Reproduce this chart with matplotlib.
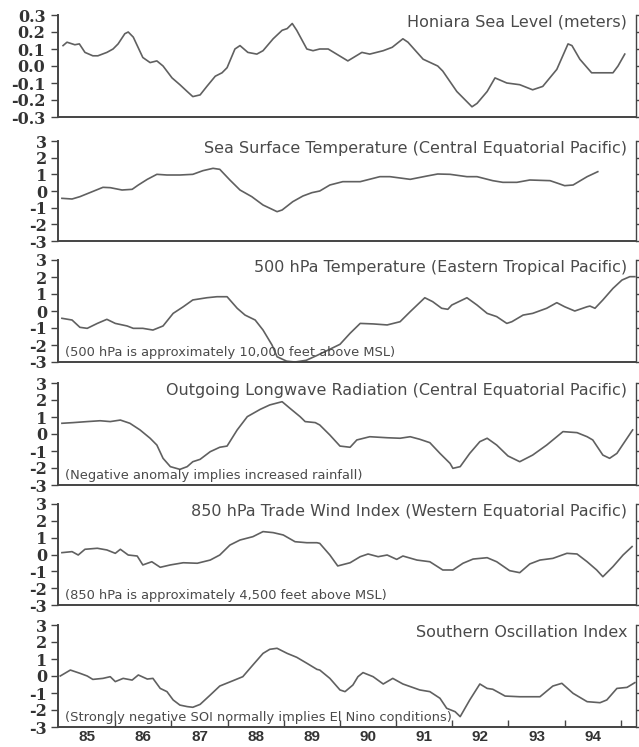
import matplotlib
matplotlib.use("Agg")
import matplotlib.pyplot as plt
from matplotlib.ticker import FixedLocator, NullFormatter

# ---- data (x = year, 2-digit, decimal) ----
sea_t = [85.07, 85.14, 85.28, 85.36, 85.46, 85.60, 85.69, 85.85, 85.96, 86.05, 86.17, 86.23,
         86.32, 86.49, 86.62, 86.74, 86.85, 87.01, 87.15, 87.28, 87.38, 87.51, 87.63, 87.78,
         87.90, 87.99, 88.13, 88.22, 88.36, 88.52, 88.63, 88.81, 88.97, 89.06, 89.15, 89.23,
         89.41, 89.52, 89.64, 89.79, 90.14, 90.39, 90.53, 90.77, 90.93, 91.12, 91.21, 91.48,
         91.74, 91.83, 92.08, 92.35, 92.44, 92.62, 92.76, 92.97, 93.20, 93.43, 93.61, 93.86,
         94.06, 94.13, 94.27, 94.48, 94.68, 94.86, 94.95, 95.07]
sea_v = [0.12, 0.14, 0.125, 0.13, 0.08, 0.06, 0.06, 0.08, 0.10, 0.13, 0.19, 0.20,
         0.17, 0.05, 0.02, 0.03, 0.0, -0.07, -0.11, -0.15, -0.18, -0.17, -0.12, -0.06,
         -0.04, -0.01, 0.10, 0.12, 0.08, 0.07, 0.09, 0.16, 0.21, 0.22, 0.25, 0.21,
         0.10, 0.09, 0.10, 0.10, 0.03, 0.08, 0.07, 0.09, 0.11, 0.16, 0.14, 0.04,
         0.0, -0.03, -0.15, -0.24, -0.22, -0.15, -0.07, -0.10, -0.11, -0.14, -0.12, -0.02,
         0.13, 0.12, 0.04, -0.04, -0.04, -0.04, 0.0, 0.07]

sst_t = [85.05, 85.23, 85.37, 85.59, 85.78, 85.91, 86.12, 86.30, 86.41, 86.57, 86.74, 86.92,
         87.15, 87.38, 87.56, 87.74, 87.86, 88.04, 88.22, 88.43, 88.63, 88.88, 88.97, 89.16,
         89.34, 89.50, 89.64, 89.82, 90.05, 90.36, 90.71, 90.89, 91.25, 91.55, 91.74, 91.96,
         92.26, 92.44, 92.72, 92.90, 93.15, 93.38, 93.74, 93.88, 94.00, 94.15, 94.40, 94.59]
sst_v = [-0.44, -0.48, -0.34, -0.04, 0.22, 0.20, 0.06, 0.10, 0.36, 0.70, 1.0, 0.96,
         0.96, 1.0, 1.22, 1.36, 1.30, 0.66, 0.06, -0.34, -0.84, -1.24, -1.14, -0.64,
         -0.30, -0.10, 0.0, 0.36, 0.56, 0.56, 0.86, 0.86, 0.70, 0.90, 1.02, 1.0,
         0.86, 0.86, 0.62, 0.52, 0.52, 0.66, 0.62, 0.46, 0.32, 0.36, 0.86, 1.16]

t500_t = [85.05, 85.23, 85.37, 85.50, 85.68, 85.85, 86.00, 86.21, 86.32, 86.49, 86.67, 86.85,
          87.03, 87.21, 87.38, 87.63, 87.81, 87.99, 88.17, 88.31, 88.49, 88.63, 88.79, 88.88,
          89.05, 89.20, 89.40, 89.60, 90.00, 90.18, 90.36, 90.59, 90.84, 91.07, 91.25, 91.51,
          91.65, 91.81, 91.92, 91.99, 92.26, 92.44, 92.62, 92.79, 92.97, 93.06, 93.26, 93.43,
          93.68, 93.86, 94.00, 94.18, 94.40, 94.45, 94.54, 94.68, 94.86, 95.02, 95.16, 95.25]
t500_v = [-0.43, -0.53, -0.96, -1.02, -0.73, -0.49, -0.73, -0.88, -1.02, -1.02, -1.12, -0.88,
          -0.14, 0.25, 0.65, 0.78, 0.84, 0.84, 0.16, -0.24, -0.53, -1.12, -2.0, -2.69,
          -2.95, -3.0, -2.9, -2.6, -1.96, -1.31, -0.73, -0.76, -0.82, -0.63, -0.04, 0.78,
          0.55, 0.16, 0.10, 0.35, 0.78, 0.35, -0.14, -0.33, -0.73, -0.63, -0.24, -0.14,
          0.16, 0.49, 0.25, 0.0, 0.25, 0.29, 0.16, 0.65, 1.33, 1.82, 2.02, 2.02]

olr_t = [85.05, 85.25, 85.50, 85.73, 85.91, 86.09, 86.26, 86.44, 86.62, 86.74, 86.85, 86.98,
         87.15, 87.28, 87.38, 87.51, 87.69, 87.86, 87.99, 88.17, 88.35, 88.58, 88.75, 88.97,
         89.11, 89.29, 89.38, 89.56, 89.64, 89.82, 90.00, 90.18, 90.30, 90.53, 90.84, 91.07,
         91.25, 91.42, 91.60, 91.78, 91.96, 92.01, 92.14, 92.31, 92.49, 92.62, 92.79, 92.99,
         93.20, 93.43, 93.68, 93.86, 93.97, 94.22, 94.40, 94.50, 94.68, 94.80, 94.93, 95.07, 95.21]
olr_v = [0.63, 0.67, 0.73, 0.78, 0.73, 0.82, 0.63, 0.24, -0.25, -0.65, -1.43, -1.92,
         -2.08, -1.92, -1.63, -1.49, -1.04, -0.78, -0.71, 0.24, 1.02, 1.45, 1.71, 1.90,
         1.51, 1.02, 0.73, 0.67, 0.53, -0.06, -0.71, -0.78, -0.35, -0.16, -0.22, -0.25,
         -0.16, -0.31, -0.51, -1.14, -1.73, -2.02, -1.92, -1.14, -0.45, -0.25, -0.65, -1.29,
         -1.63, -1.24, -0.65, -0.16, 0.14, 0.08, -0.16, -0.35, -1.24, -1.43, -1.14, -0.45, 0.24]

wind_t = [85.05, 85.23, 85.34, 85.46, 85.68, 85.85, 86.00, 86.09, 86.23, 86.39, 86.49, 86.65,
          86.80, 86.98, 87.21, 87.46, 87.69, 87.86, 88.04, 88.22, 88.45, 88.63, 88.81, 88.99,
          89.20, 89.41, 89.59, 89.64, 89.82, 89.96, 90.18, 90.36, 90.50, 90.68, 90.84, 91.01,
          91.12, 91.37, 91.60, 91.83, 92.01, 92.19, 92.37, 92.62, 92.79, 93.02, 93.20, 93.38,
          93.56, 93.79, 94.04, 94.22, 94.40, 94.57, 94.68, 94.86, 95.04, 95.20]
wind_v = [0.11, 0.17, -0.03, 0.31, 0.37, 0.27, 0.07, 0.31, -0.03, -0.09, -0.62, -0.43,
          -0.76, -0.62, -0.49, -0.52, -0.33, -0.03, 0.56, 0.86, 1.06, 1.36, 1.30, 1.16,
          0.76, 0.70, 0.70, 0.66, -0.03, -0.68, -0.49, -0.13, 0.03, -0.13, -0.03, -0.29,
          -0.09, -0.33, -0.43, -0.92, -0.92, -0.52, -0.27, -0.19, -0.43, -0.96, -1.08, -0.56,
          -0.33, -0.23, 0.07, 0.03, -0.43, -0.92, -1.32, -0.72, -0.03, 0.47]

soi_t = [85.02, 85.20, 85.37, 85.50, 85.60, 85.78, 85.91, 86.00, 86.14, 86.30, 86.41, 86.57,
         86.67, 86.80, 86.92, 87.03, 87.15, 87.28, 87.38, 87.51, 87.69, 87.86, 88.10, 88.27,
         88.45, 88.63, 88.75, 88.88, 89.06, 89.23, 89.41, 89.59, 89.64, 89.82, 90.00, 90.09,
         90.23, 90.32, 90.41, 90.59, 90.77, 90.94, 91.12, 91.42, 91.60, 91.78, 91.90, 92.05,
         92.14, 92.31, 92.49, 92.62, 92.72, 92.94, 93.20, 93.56, 93.79, 93.95, 94.15, 94.40,
         94.63, 94.75, 94.93, 95.11, 95.25]
soi_v = [0.0, 0.35, 0.16, 0.0, -0.2, -0.14, -0.04, -0.33, -0.14, -0.24, 0.06, -0.18,
         -0.14, -0.73, -0.92, -1.41, -1.71, -1.80, -1.84, -1.67, -1.12, -0.59, -0.27, -0.04,
         0.65, 1.33, 1.57, 1.63, 1.33, 1.10, 0.75, 0.39, 0.35, -0.14, -0.82, -0.92,
         -0.53, -0.04, 0.20, -0.04, -0.47, -0.14, -0.47, -0.82, -0.92, -1.31, -1.90, -2.10,
         -2.39, -1.41, -0.47, -0.73, -0.78, -1.18, -1.22, -1.22, -0.59, -0.43, -1.02, -1.51,
         -1.57, -1.41, -0.73, -0.67, -0.39]

titles = ["Honiara Sea Level (meters)",
          "Sea Surface Temperature (Central Equatorial Pacific)",
          "500 hPa Temperature (Eastern Tropical Pacific)",
          "Outgoing Longwave Radiation (Central Equatorial Pacific)",
          "850 hPa Trade Wind Index (Western Equatorial Pacific)",
          "Southern Oscillation Index"]
notes = ["", "",
         "(500 hPa is approximately 10,000 feet above MSL)",
         "(Negative anomaly implies increased rainfall)",
         "(850 hPa is approximately 4,500 feet above MSL)",
         "(Strongly negative SOI normally implies El Nino conditions)"]
years = [85, 86, 87, 88, 89, 90, 91, 92, 93, 94]

series = [(sea_t, sea_v), (sst_t, sst_v), (t500_t, t500_v),
          (olr_t, olr_v), (wind_t, wind_v), (soi_t, soi_v)]

W, H = 639, 747
fig = plt.figure(figsize=(W / 100, H / 100), dpi=100)
panels = [(15, 117), (141, 241), (260, 362), (383, 485), (504, 605), (625, 727)]
left, right = 58, 636
line_col = "#606060"
txt_col = "#4a4a4a"

for i, ((top, bot), (t, v)) in enumerate(zip(panels, series)):
    ax = fig.add_axes([left / W, 1 - bot / H, (right - left) / W, (bot - top) / H])
    ax.plot(t, v, color=line_col, lw=1.2)
    ax.set_xlim(84.98, 95.27)
    if i == 0:
        ax.set_ylim(-0.3, 0.3)
        yt = [-0.3, -0.2, -0.1, 0.0, 0.1, 0.2, 0.3]
        ylab = ["%.1f" % y for y in yt]
    else:
        ax.set_ylim(-3, 3)
        yt = [-3, -2, -1, 0, 1, 2, 3]
        ylab = [str(y) for y in yt]
    ax.set_yticks(yt)
    ax.set_yticklabels(ylab, fontdict={'family': 'DejaVu Serif', 'weight': 'bold', 'size': 11.5},
                       color="#333333")
    ax.tick_params(axis='y', which='major', direction='out', length=5, width=1,
                   color="#444444", pad=4 if i == 0 else 3, right=True, labelright=False)
    ax.spines['top'].set_visible(False)
    for s in ['left', 'bottom', 'right']:
        ax.spines[s].set_color("#444444")
    ax.spines['left'].set_linewidth(1.4)
    ax.spines['bottom'].set_linewidth(1.4)
    ax.spines['right'].set_linewidth(1.0)

    # year boundary ticks, labels at mid year
    ax.xaxis.set_major_locator(FixedLocator([y + 1 for y in years]))
    ax.xaxis.set_major_formatter(NullFormatter())
    ax.xaxis.set_minor_locator(FixedLocator([y + 0.5 for y in years]))
    if i == len(panels) - 1:
        ax.set_xticklabels([str(y) for y in years], minor=True,
                           fontdict={'family': 'Liberation Sans', 'weight': 'bold', 'size': 11},
                           color="#333333")
        ax.tick_params(axis='x', which='major', direction='in', length=5, width=1, color="#444444")
        ax.tick_params(axis='x', which='minor', length=0, pad=2)
    else:
        ax.xaxis.set_minor_formatter(NullFormatter())
        ax.tick_params(axis='x', which='both', length=0)

    ax.text(0.985, 0.93, titles[i], transform=ax.transAxes, ha='right', va='center',
            fontsize=11.5, family='DejaVu Sans', color=txt_col)
    if notes[i]:
        ax.text(0.012, 0.09, notes[i], transform=ax.transAxes, ha='left', va='center',
                fontsize=9.4, family='DejaVu Sans', color=txt_col)

fig.savefig("out.png", dpi=100)
